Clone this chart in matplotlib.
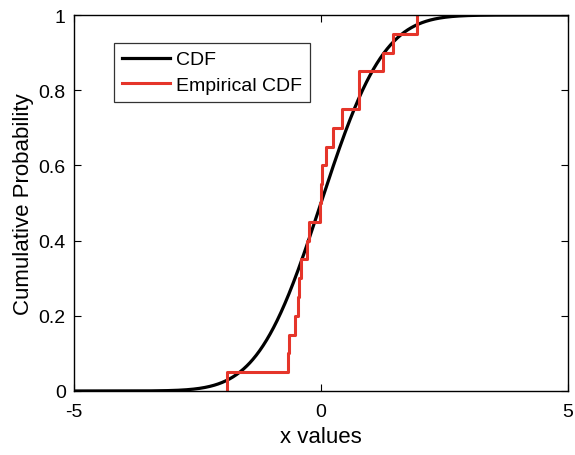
import numpy as np
import matplotlib
matplotlib.use("Agg")
import matplotlib.pyplot as plt
from math import erf, sqrt

# Sorted sample values for the empirical CDF
samples = [-1.91, -0.66, -0.64, -0.53, -0.47, -0.45, -0.41, -0.29, -0.24,
           -0.02, 0.00, 0.02, 0.10, 0.25, 0.42, 0.76, 0.78, 1.25, 1.46, 1.95]

x_ticks = [-5, 0, 5]
y_ticks = [0, 0.2, 0.4, 0.6, 0.8, 1]

plt.rcParams['font.family'] = ['Liberation Sans', 'DejaVu Sans']

fig = plt.figure(figsize=(5.75, 4.56), dpi=100)
ax = fig.add_axes([0.1287, 0.1404, 0.859, 0.8245])

# Theoretical standard normal CDF
xs = np.linspace(-5, 5, 1001)
cdf = np.array([0.5 * (1 + erf(v / sqrt(2))) for v in xs])
ax.plot(xs, cdf, color='black', linewidth=2.3, label='CDF')

# Empirical CDF as a staircase
s = np.sort(np.array(samples))
n = len(s)
fx = [s[0]]
fy = [0.0]
for i, v in enumerate(s):
    fx.append(v)
    fy.append((i + 1) / n)
    if i + 1 < n:
        fx.append(s[i + 1])
        fy.append((i + 1) / n)
ax.plot(fx, fy, color='#E5352A', linewidth=2.2, label='Empirical CDF')

ax.set_xlim(-5, 5)
ax.set_ylim(0, 1)
ax.set_xticks(x_ticks)
ax.set_xticklabels([str(t) for t in x_ticks])
ax.set_yticks(y_ticks)
ax.set_yticklabels(['0', '0.2', '0.4', '0.6', '0.8', '1'])
ax.tick_params(direction='in', top=True, right=True, labelsize=14, length=5,
               width=0.8)
ax.tick_params(axis='x', pad=9)
ax.tick_params(axis='y', pad=6)
for sp in ax.spines.values():
    sp.set_linewidth(1.0)

ax.set_xlabel('x values', fontsize=16, labelpad=4)
ax.set_ylabel('Cumulative Probability', fontsize=16, labelpad=3)

leg = ax.legend(loc='upper left', bbox_to_anchor=(0.081, 0.9255), fontsize=14,
                frameon=True, fancybox=False, edgecolor='black',
                handlelength=2.5, handletextpad=0.3, borderpad=0.4,
                labelspacing=0.4, borderaxespad=0)
leg.get_frame().set_linewidth(0.9)

fig.savefig('out.png', dpi=100)
